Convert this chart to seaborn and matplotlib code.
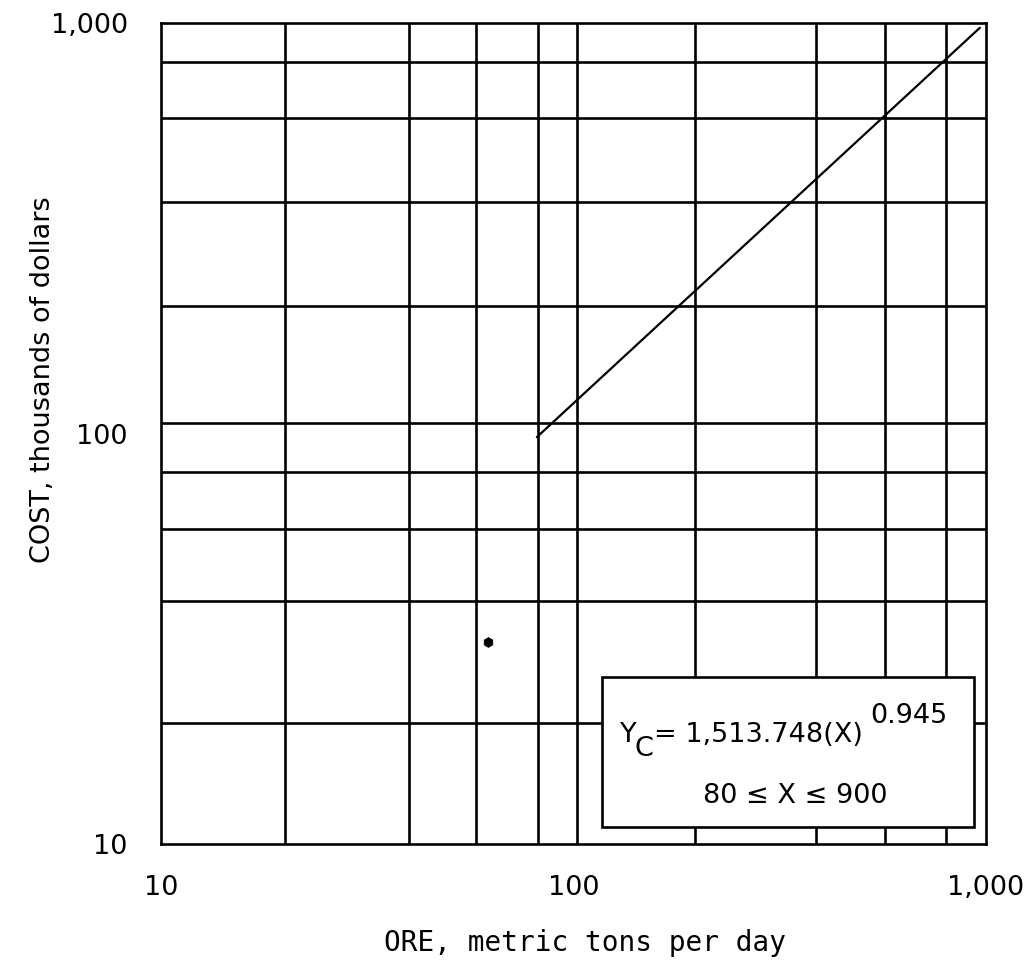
import matplotlib
matplotlib.use("Agg")
import matplotlib.pyplot as plt
from matplotlib.ticker import FixedLocator, NullFormatter
from matplotlib.patches import Rectangle
import seaborn as sns

# cost curve, end points (ore t/d -> cost k$)
ore_tpd = [81.5, 966]
cost_kusd = [98, 972]

# small stray mark left of the equation box
mark_ore = [62]
mark_cost = [31]

# grid lines as drawn on the original sheet
x_grid = [20, 40, 58, 82, 102, 197, 387, 569, 800]
y_grid = [19.7, 39, 58.5, 80.5, 106, 204, 366, 586, 802]

x_ticks = [10, 100, 1000]
x_tick_labels = ["10", "100", "1,000"]
y_ticks = [10, 100, 1000]
y_tick_labels = ["10", "100", "1,000"]

eq_lhs = "Y"
eq_sub = "C"
eq_rhs = "= 1,513.748(X)"
eq_exp = "0.945"
eq_range = "80 \u2264 X \u2264 900"

sns.set_style("white")
plt.rcParams["font.family"] = ["DejaVu Sans"]
plt.rcParams["text.color"] = "black"
plt.rcParams["axes.labelcolor"] = "black"

fig = plt.figure(figsize=(10.34, 9.72), dpi=100)
ax = fig.add_axes([0.1557, 0.1314, 0.7979, 0.8452])
ax.set_xscale("log")
ax.set_yscale("log")

sns.lineplot(x=ore_tpd, y=cost_kusd, ax=ax, color="black", linewidth=1.6, zorder=2)
sns.scatterplot(x=mark_ore, y=mark_cost, ax=ax, color="black", s=50,
                marker="h", edgecolor="black", zorder=2)

ax.set_xlim(10, 1000)
ax.set_ylim(10, 1000)

# major ticks only carry labels, the grid comes from the fixed minor lines
ax.set_xticks(x_ticks, x_tick_labels)
ax.set_yticks(y_ticks, y_tick_labels)
ax.xaxis.set_minor_locator(FixedLocator(x_grid))
ax.yaxis.set_minor_locator(FixedLocator(y_grid))
ax.xaxis.set_minor_formatter(NullFormatter())
ax.yaxis.set_minor_formatter(NullFormatter())
ax.grid(which="minor", color="black", linewidth=1.9)
ax.grid(which="major", visible=False)
ax.tick_params(axis="both", which="both", length=0, labelsize=19.5, colors="black")
ax.tick_params(axis="x", pad=22)
ax.tick_params(axis="y", pad=24)

for sp in ax.spines.values():
    sp.set_color("black")
    sp.set_linewidth(1.9)

ax.set_xlabel("ORE, metric tons per day", fontsize=20, family="DejaVu Sans Mono")
ax.xaxis.set_label_coords(0.514, -0.103)
ax.set_ylabel("COST, thousands of dollars", fontsize=19.5)
ax.yaxis.set_label_coords(-0.127, 0.565)

# equation box
ax.add_patch(Rectangle((0.534, 0.0207), 0.451, 0.1826, transform=ax.transAxes,
                       facecolor="white", edgecolor="black", linewidth=1.9, zorder=3))
txt = dict(transform=ax.transAxes, fontsize=19.5, va="baseline", zorder=4)
ax.text(0.5564, 0.1245, eq_lhs, ha="left", **txt)
ax.text(0.5745, 0.1080, eq_sub, ha="left", **txt)
ax.text(0.5976, 0.1245, eq_rhs, ha="left", **txt)
ax.text(0.8594, 0.1476, eq_exp, ha="left", **txt)
ax.text(0.7685, 0.0503, eq_range, ha="center", **txt)

fig.savefig("out.png", dpi=100, facecolor="white")
